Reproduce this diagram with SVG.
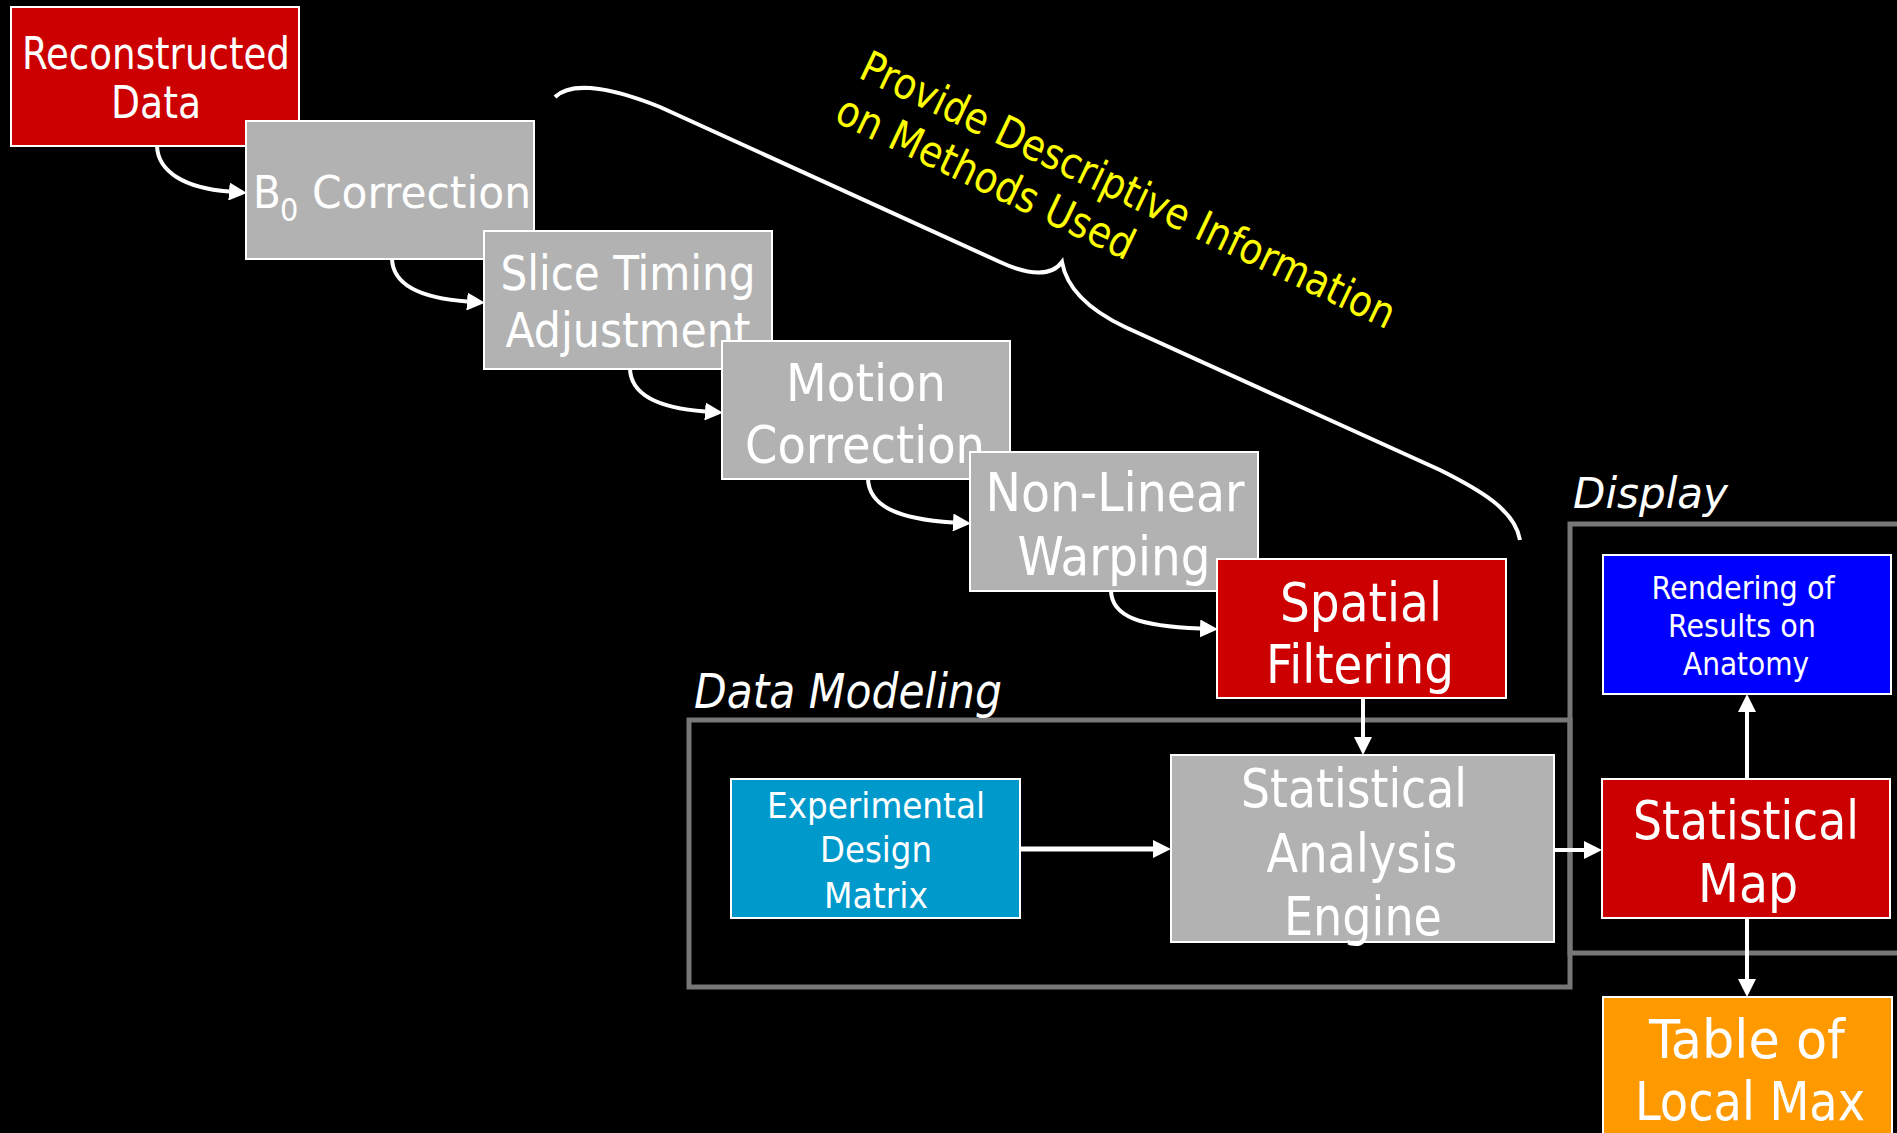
<svg xmlns="http://www.w3.org/2000/svg" width="1897" height="1133" viewBox="0 0 1897 1133">
<style>
.bg{fill:#000}
.box{stroke:#fff;stroke-width:2}
.red{fill:#CC0000}
.gray{fill:#B2B2B2}
.blue{fill:#0000FF}
.cyan{fill:#0099CC}
.orange{fill:#FF9900}
.grp{fill:none;stroke:#777;stroke-width:5}
.lbl{fill:#fff;font-family:'DejaVu Sans Condensed','DejaVu Sans',sans-serif;text-anchor:middle}
.ttl{fill:#fff;font-family:'DejaVu Sans Condensed','DejaVu Sans',sans-serif;font-style:italic}
.note{fill:#FFFF00;font-family:'DejaVu Sans Condensed','DejaVu Sans',sans-serif;font-size:43px}
.conn{fill:none;stroke:#fff;stroke-width:4}
</style>
<defs>
<marker id="ah" markerUnits="userSpaceOnUse" markerWidth="18" markerHeight="18" viewBox="0 0 18 18" refX="0" refY="9" orient="auto">
<path d="M0,0 L18,9 L0,18 z" fill="#fff"/>
</marker>
</defs>
<rect class="bg" x="0" y="0" width="1897" height="1133"/>

<g id="group-data-modeling">
<rect class="grp" x="689" y="720" width="881" height="267"/>
<text class="ttl" x="694" y="708" font-size="48" textLength="308" lengthAdjust="spacingAndGlyphs">Data Modeling</text>
</g>
<g id="group-display">
<rect class="grp" x="1570" y="524" width="345" height="429"/>
<text class="ttl" x="1573" y="508" font-size="43" textLength="155" lengthAdjust="spacingAndGlyphs">Display</text>
</g>

<g id="node-reconstructed">
<rect class="box red" x="11" y="7" width="288" height="139"/>
<text class="lbl" font-size="44"><tspan x="156" y="69" textLength="268" lengthAdjust="spacingAndGlyphs">Reconstructed</tspan><tspan x="156" y="118" textLength="90" lengthAdjust="spacingAndGlyphs">Data</tspan></text>
</g>
<g id="node-b0">
<rect class="box gray" x="246" y="121" width="288" height="138"/>
<text fill="#fff" font-family="'DejaVu Sans Condensed','DejaVu Sans',sans-serif" font-size="45" x="253" y="208">B<tspan x="280" y="221" font-size="32">0</tspan> <tspan x="312" y="208" textLength="219" lengthAdjust="spacingAndGlyphs">Correction</tspan></text>
</g>
<g id="node-slice">
<rect class="box gray" x="484" y="231" width="288" height="138"/>
<text class="lbl" font-size="48"><tspan x="628" y="290" textLength="255" lengthAdjust="spacingAndGlyphs">Slice Timing</tspan><tspan x="628" y="347" textLength="245" lengthAdjust="spacingAndGlyphs">Adjustment</tspan></text>
</g>
<g id="node-motion">
<rect class="box gray" x="722" y="341" width="288" height="138"/>
<text class="lbl" font-size="52"><tspan x="866" y="401" textLength="160" lengthAdjust="spacingAndGlyphs">Motion</tspan><tspan x="865" y="463" textLength="240" lengthAdjust="spacingAndGlyphs">Correction</tspan></text>
</g>
<g id="node-nonlinear">
<rect class="box gray" x="970" y="452" width="288" height="139"/>
<text class="lbl" font-size="53"><tspan x="1115" y="511" textLength="259" lengthAdjust="spacingAndGlyphs">Non-Linear</tspan><tspan x="1114" y="575" textLength="193" lengthAdjust="spacingAndGlyphs">Warping</tspan></text>
</g>
<g id="node-spatial">
<rect class="box red" x="1217" y="559" width="289" height="139"/>
<text class="lbl" font-size="53"><tspan x="1361" y="621" textLength="162" lengthAdjust="spacingAndGlyphs">Spatial</tspan><tspan x="1360" y="683" textLength="188" lengthAdjust="spacingAndGlyphs">Filtering</tspan></text>
</g>
<g id="node-engine">
<rect class="box gray" x="1171" y="755" width="383" height="187"/>
<text class="lbl" font-size="54"><tspan x="1354" y="807" textLength="226" lengthAdjust="spacingAndGlyphs">Statistical</tspan><tspan x="1362" y="872" textLength="191" lengthAdjust="spacingAndGlyphs">Analysis</tspan><tspan x="1363" y="935" textLength="158" lengthAdjust="spacingAndGlyphs">Engine</tspan></text>
</g>
<g id="node-design">
<rect class="box cyan" x="731" y="779" width="289" height="139"/>
<text class="lbl" font-size="36"><tspan x="876" y="818" textLength="218" lengthAdjust="spacingAndGlyphs">Experimental</tspan><tspan x="876" y="862" textLength="112" lengthAdjust="spacingAndGlyphs">Design</tspan><tspan x="876" y="908" textLength="104" lengthAdjust="spacingAndGlyphs">Matrix</tspan></text>
</g>
<g id="node-rendering">
<rect class="box blue" x="1603" y="555" width="288" height="139"/>
<text class="lbl" font-size="32"><tspan x="1743" y="599" textLength="183" lengthAdjust="spacingAndGlyphs">Rendering of</tspan><tspan x="1742" y="637" textLength="148" lengthAdjust="spacingAndGlyphs">Results on</tspan><tspan x="1746" y="675" textLength="126" lengthAdjust="spacingAndGlyphs">Anatomy</tspan></text>
</g>
<g id="node-statmap">
<rect class="box red" x="1602" y="779" width="288" height="139"/>
<text class="lbl" font-size="54"><tspan x="1746" y="839" textLength="226" lengthAdjust="spacingAndGlyphs">Statistical</tspan><tspan x="1748" y="902" textLength="100" lengthAdjust="spacingAndGlyphs">Map</tspan></text>
</g>
<g id="node-table">
<rect class="box orange" x="1603" y="997" width="289" height="150"/>
<text class="lbl" font-size="54"><tspan x="1747" y="1058" textLength="196" lengthAdjust="spacingAndGlyphs">Table of</tspan><tspan x="1750" y="1120" textLength="230" lengthAdjust="spacingAndGlyphs">Local Max</tspan></text>
</g>

<g id="annotation">
<path class="conn" d="M555,97 C568,84 600,83 660,107 L1000,262 C1030,276 1052,276 1062,262 C1066,285 1085,308 1125,327 L1440,470 C1480,490 1515,510 1520,540"/>
<g transform="translate(857,77) rotate(25.5)">
<text class="note" x="0" y="0" textLength="587" lengthAdjust="spacingAndGlyphs">Provide Descriptive Information</text>
<text class="note" x="-3" y="50" textLength="325" lengthAdjust="spacingAndGlyphs">on Methods Used</text>
</g>
</g>

<g id="connectors">
<path class="conn" marker-end="url(#ah)" d="M157,146 C158,172 185,188 229,191.5"/>
<path class="conn" marker-end="url(#ah)" d="M392,259 C393,285 420,298 467,301.5"/>
<path class="conn" marker-end="url(#ah)" d="M630,369 C631,395 658,408 705,411.5"/>
<path class="conn" marker-end="url(#ah)" d="M868,479 C869,505 896,519 953,522.5"/>
<path class="conn" marker-end="url(#ah)" d="M1111,591 C1112,617 1140,626 1200,628.5"/>
<path class="conn" marker-end="url(#ah)" d="M1363,698 L1363,737"/>
<path class="conn" marker-end="url(#ah)" style="stroke-width:5" d="M1020,849 L1153,849"/>
<path class="conn" marker-end="url(#ah)" d="M1554,850 L1584,850"/>
<path class="conn" marker-end="url(#ah)" d="M1747,779 L1747,712"/>
<path class="conn" marker-end="url(#ah)" d="M1747,918 L1747,979"/>
</g>
</svg>
